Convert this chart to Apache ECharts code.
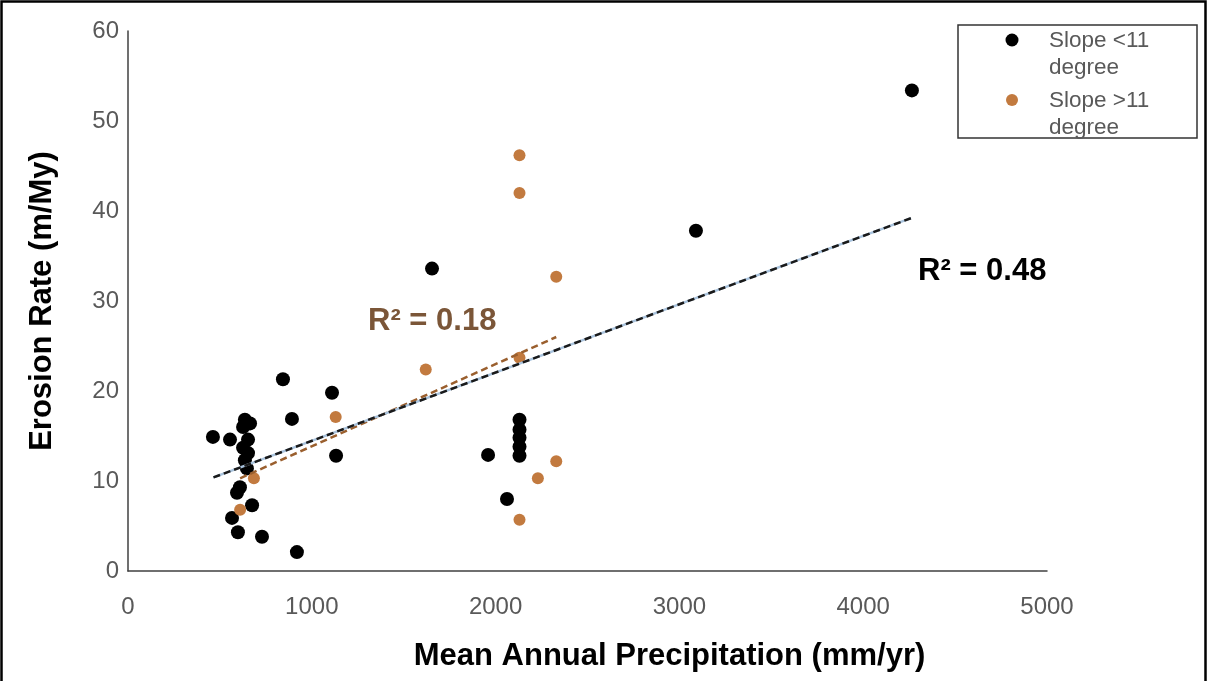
<!DOCTYPE html>
<html>
<head>
<meta charset="utf-8">
<title>Erosion Rate vs Mean Annual Precipitation</title>
<script src="https://cdn.jsdelivr.net/npm/echarts@6/dist/echarts.min.js"></script>
<style>
  html, body { margin: 0; padding: 0; background: #fff; }
  #chart { width: 1208px; height: 681px; }
</style>
</head>
<body>
<div id="chart"></div>
<script>
// Mean annual precipitation (mm/yr) and erosion rate (m/My), slope < 11 degree
const gentleX = [462, 555, 636, 626, 664, 653, 626, 653, 636, 647, 609, 593, 675, 566, 598, 729, 919,
                 843, 892, 1110, 1132, 1654, 1959, 2062, 2130, 2130, 2130, 2130, 2130, 3090, 4265];
const gentleY = [14.9, 14.6, 16.8, 16.0, 16.4, 14.6, 13.7, 13.1, 12.3, 11.4, 9.3, 8.7, 7.3, 5.9, 4.3, 3.8, 2.1,
                 21.3, 16.9, 19.8, 12.8, 33.6, 12.9, 8.0, 16.8, 15.7, 14.8, 13.8, 12.8, 37.8, 53.4];

// Same measures, slope > 11 degree
const steepX = [2130, 2130, 2330, 1620, 2130, 1130, 2330, 2230, 2130, 685, 610];
const steepY = [46.2, 42.0, 32.7, 22.4, 23.7, 17.1, 12.2, 10.3, 5.7, 10.3, 6.8];

// Linear trend lines (end points) with their R² values
const gentleTrend = [[465, 10.4], [4260, 39.2]];
const steepTrend = [[610, 10.3], [2330, 26.0]];
const gentleR2 = 'R\u00B2 = 0.48';
const steepR2 = 'R\u00B2 = 0.18';

// Axis ticks
const xTicks = [0, 1000, 2000, 3000, 4000, 5000];
const yTicks = [0, 10, 20, 30, 40, 50, 60];

const seriesNames = ['Slope <11 degree', 'Slope >11 degree'];
const BLACK = '#000000';
const ORANGE = '#C27A3F';
const FONT = '"Liberation Sans", Arial, sans-serif';

const zip = (xs, ys) => xs.map((x, i) => [x, ys[i]]);

const chart = echarts.init(document.getElementById('chart'), null, { renderer: 'canvas' });

const option = {
  backgroundColor: '#ffffff',
  animation: false,
  grid: { left: 128, right: 161, top: 31, bottom: 110, containLabel: false },
  xAxis: {
    type: 'value',
    min: xTicks[0], max: xTicks[xTicks.length - 1], interval: 1000,
    name: 'Mean Annual Precipitation (mm/yr)',
    nameLocation: 'middle', nameGap: 70,
    // the title sits a little right of the axis centre
    nameTextStyle: { fontFamily: FONT, fontSize: 31, fontWeight: 'bold', color: '#000',
                     padding: [0, 0, 0, 164] },
    axisLine: { lineStyle: { color: '#404040', width: 1.5 } },
    axisTick: { show: false },
    splitLine: { show: false },
    axisLabel: { fontFamily: FONT, fontSize: 24, color: '#595959', margin: 24,
                 formatter: v => String(v) }
  },
  yAxis: {
    type: 'value',
    min: yTicks[0], max: yTicks[yTicks.length - 1], interval: 10,
    name: 'Erosion Rate (m/My)',
    nameLocation: 'middle', nameGap: 70, nameRotate: 90,
    nameTextStyle: { fontFamily: FONT, fontSize: 31, fontWeight: 'bold', color: '#000' },
    axisLine: { show: true, lineStyle: { color: '#404040', width: 1.5 } },
    axisTick: { show: false },
    splitLine: { show: false },
    axisLabel: { fontFamily: FONT, fontSize: 24, color: '#595959', margin: 9 }
  },
  series: [
    {
      name: seriesNames[0], type: 'scatter', symbolSize: 14, z: 2,
      itemStyle: { color: BLACK, opacity: 1 },
      data: zip(gentleX, gentleY)
    },
    {
      name: seriesNames[1], type: 'scatter', symbolSize: 12, z: 3,
      itemStyle: { color: ORANGE, opacity: 1 },
      data: zip(steepX, steepY)
    },
    {
      name: 'steep trend', type: 'line', showSymbol: false, silent: true, z: 4,
      lineStyle: { color: '#9A5F2E', width: 2.5, type: [7, 4] },
      data: steepTrend
    },
    {
      name: 'gentle trend base', type: 'line', showSymbol: false, silent: true, z: 5,
      lineStyle: { color: '#A9C3DD', width: 2.5 },
      data: gentleTrend
    },
    {
      name: 'gentle trend', type: 'line', showSymbol: false, silent: true, z: 6,
      lineStyle: { color: '#1a1a1a', width: 2.5, type: [7, 4] },
      data: gentleTrend
    }
  ]
};

chart.setOption(option);

// R² annotations and the boxed legend
const legendText = { fontFamily: FONT, fontSize: 22.5, fill: '#595959' };
chart.setOption({
  graphic: [
    // outer frame
    { type: 'rect', shape: { x: 1.5, y: 1.5, width: 1204, height: 700 },
      style: { fill: 'none', stroke: '#000', lineWidth: 2.5 }, silent: true },
    { type: 'text', left: 918, top: 256,
      style: { text: gentleR2, fontFamily: FONT, fontSize: 31, fontWeight: 'bold', fill: '#000' } },
    { type: 'text', left: 368, top: 306,
      style: { text: steepR2, fontFamily: FONT, fontSize: 31, fontWeight: 'bold', fill: '#7B5638' } },
    { type: 'rect', shape: { x: 958, y: 25, width: 239, height: 113 },
      style: { fill: '#fff', stroke: '#333', lineWidth: 1.5 }, z: 10 },
    { type: 'circle', shape: { cx: 1012, cy: 40, r: 6.5 }, style: { fill: BLACK }, z: 11 },
    { type: 'circle', shape: { cx: 1012, cy: 100, r: 6 }, style: { fill: ORANGE }, z: 11 },
    { type: 'text', left: 1049, top: 29, z: 11,
      style: Object.assign({ text: seriesNames[0].split(' ').slice(0, 2).join(' ') }, legendText) },
    { type: 'text', left: 1049, top: 56, z: 11,
      style: Object.assign({ text: seriesNames[0].split(' ')[2] }, legendText) },
    { type: 'text', left: 1049, top: 89, z: 11,
      style: Object.assign({ text: seriesNames[1].split(' ').slice(0, 2).join(' ') }, legendText) },
    { type: 'text', left: 1049, top: 116, z: 11,
      style: Object.assign({ text: seriesNames[1].split(' ')[2] }, legendText) }
  ]
});
</script>
</body>
</html>
